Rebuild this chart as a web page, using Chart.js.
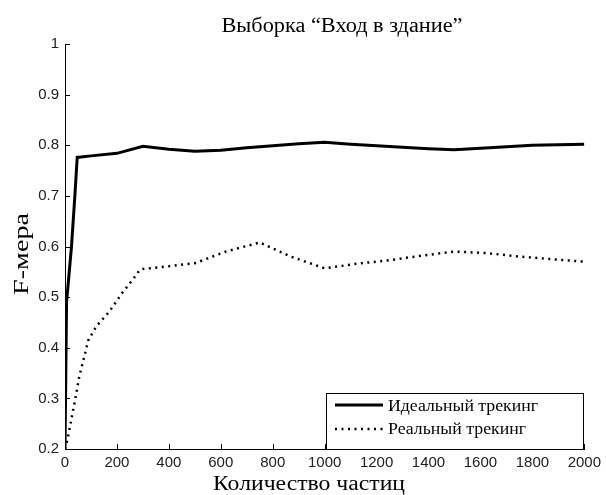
<!DOCTYPE html>
<html><head><meta charset="utf-8">
<script src="https://cdn.jsdelivr.net/npm/chart.js@4"></script>
<style>html,body{margin:0;padding:0;background:#fff}#wrap{width:606px;height:495px}</style>
</head><body><div id="wrap"><canvas id="c" width="606" height="495"></canvas></div>
<script>
const chartTitle = 'Выборка “Вход в здание”';
const xTitle = 'Количество частиц';
const yTitle = 'F-мера';
const seriesNames = ['Идеальный трекинг', 'Реальный трекинг'];
const idealX = [0, 6, 25, 38, 47, 100, 200, 300, 400, 500, 600, 700, 800, 900, 1000, 1100, 1200, 1300, 1400, 1500, 1600, 1700, 1800, 1900, 2000];
const idealY = [0.2, 0.49, 0.6, 0.7, 0.776, 0.779, 0.784, 0.798, 0.792, 0.788, 0.79, 0.795, 0.799, 0.803, 0.806, 0.802, 0.799, 0.796, 0.793, 0.791, 0.794, 0.797, 0.8, 0.801, 0.802];
const realX = [0, 10, 25, 40, 55, 90, 120, 170, 220, 260, 290, 400, 500, 620, 750, 870, 1000, 1125, 1250, 1375, 1500, 1625, 1750, 1875, 2000];
const realY = [0.2, 0.22, 0.26, 0.3, 0.343, 0.415, 0.442, 0.471, 0.508, 0.534, 0.555, 0.561, 0.567, 0.59, 0.608, 0.58, 0.557, 0.566, 0.573, 0.582, 0.59, 0.587, 0.58, 0.575, 0.57];

const toPts = (xs, ys) => xs.map((x, i) => ({x: x, y: ys[i]}));
const SERIF = '"Liberation Serif", "Times New Roman", serif';

// draw text stretched horizontally (in its own direction) to a target width
function fitText(ctx, text, size, width, align) {
  ctx.font = size + 'px ' + SERIF;
  const w = ctx.measureText(text).width;
  const s = width / w;
  ctx.save();
  ctx.scale(s, 1);
  ctx.textAlign = align || 'center';
  ctx.fillText(text, 0, 0);
  ctx.restore();
}

const extras = {
  id: 'extras',
  afterDraw(chart) {
    const ctx = chart.ctx, a = chart.chartArea;
    const xs = chart.scales.x, ys = chart.scales.y;
    ctx.save();
    ctx.strokeStyle = '#000'; ctx.lineWidth = 1;
    ctx.beginPath();
    xs.ticks.forEach(t => { const p = Math.round(xs.getPixelForValue(t.value)) + 0.5; ctx.moveTo(p, a.bottom); ctx.lineTo(p, a.bottom - 5); });
    ys.ticks.forEach(t => { const p = Math.round(ys.getPixelForValue(t.value)) + 0.5; ctx.moveTo(a.left, p); ctx.lineTo(a.left + 5, p); });
    ctx.stroke();
    ctx.fillStyle = '#000';
    ctx.textBaseline = 'alphabetic';
    // title
    ctx.save(); ctx.translate(342, 32); fitText(ctx, chartTitle, 20, 241); ctx.restore();
    // x title
    ctx.save(); ctx.translate(309, 490); fitText(ctx, xTitle, 20, 192); ctx.restore();
    // y title
    ctx.save(); ctx.translate(28, 254); ctx.rotate(-Math.PI / 2); fitText(ctx, yTitle, 21, 82); ctx.restore();
    // legend
    const lx = 326, ly = 393, lw = 257, lh = 56;
    ctx.fillStyle = '#fff';
    ctx.fillRect(lx, ly, lw, lh);
    ctx.strokeStyle = '#000'; ctx.lineWidth = 1;
    ctx.strokeRect(lx + 0.5, ly + 0.5, lw, lh);
    const ds = chart.data.datasets;
    const lines = [405, 429], bases = [411, 434];
    ds.forEach((d, i) => {
      ctx.beginPath();
      ctx.lineWidth = d.borderWidth;
      ctx.setLineDash(d.borderDash || []);
      ctx.moveTo(335, lines[i]); ctx.lineTo(383, lines[i]);
      ctx.stroke();
      ctx.setLineDash([]);
      ctx.fillStyle = '#000';
      ctx.save(); ctx.translate(388, bases[i]);
      fitText(ctx, d.label, 16, i === 0 ? 150 : 138, 'left');
      ctx.restore();
    });
    ctx.restore();
  }
};

new Chart(document.getElementById('c'), {
  type: 'line',
  data: {
    datasets: [
      {label: seriesNames[0], data: toPts(idealX, idealY), borderColor: '#000', borderWidth: 3, pointRadius: 0, tension: 0, fill: false},
      {label: seriesNames[1], data: toPts(realX, realY), borderColor: '#000', borderWidth: 2.5, borderDash: [2, 4.5], pointRadius: 0, tension: 0, fill: false}
    ]
  },
  options: {
    responsive: false,
    animation: false,
    devicePixelRatio: 1,
    layout: {padding: {top: 44, right: 18, left: 0, bottom: 0}},
    plugins: {legend: {display: false}, title: {display: false}, tooltip: {enabled: false}},
    scales: {
      x: {
        type: 'linear', min: 0, max: 2000,
        afterFit: s => { s.height = 46; },
        ticks: {stepSize: 200, color: '#222', padding: 5, maxRotation: 0, autoSkip: false, font: {family: '"Liberation Sans", Arial, sans-serif', size: 15},
          callback: v => String(v)},
        grid: {display: true, drawOnChartArea: false, drawTicks: false},
        border: {display: true, color: '#000', width: 1}
      },
      y: {
        type: 'linear', min: 0.2, max: 1,
        afterFit: s => { s.width = 65; },
        ticks: {stepSize: 0.1, color: '#222', padding: 6, autoSkip: false, font: {family: '"Liberation Sans", Arial, sans-serif', size: 15},
          callback: v => String(+v.toFixed(1))},
        grid: {display: true, drawOnChartArea: false, drawTicks: false},
        border: {display: true, color: '#000', width: 1}
      }
    }
  },
  plugins: [extras]
});
</script></body></html>
